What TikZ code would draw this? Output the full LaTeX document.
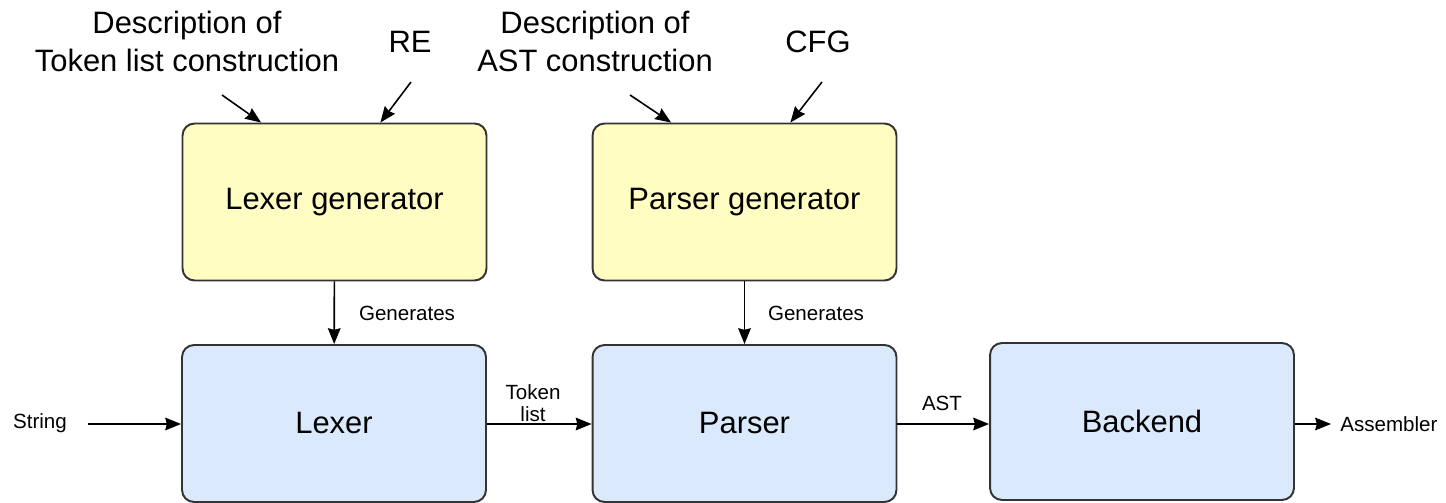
\documentclass[tikz,border=0pt]{standalone}
\usepackage{fontspec}
\setmainfont{Liberation Sans}
\usetikzlibrary{arrows.meta,calc}
\definecolor{genfill}{HTML}{FFFDC2}
\definecolor{stagefill}{HTML}{DAEAFC}
\definecolor{boxedge}{HTML}{333333}
\begin{document}
\begin{tikzpicture}[x=0.02cm,y=-0.02cm,
  box/.style={draw=boxedge,line width=1.1pt,rounded corners=0.24cm,
    minimum width=6.08cm,minimum height=3.14cm,inner sep=0pt,
    font=\fontsize{17.6}{21.6}\selectfont},
  gen/.style={box,fill=genfill},
  stage/.style={box,fill=stagefill},
  big/.style={font=\fontsize{17.6}{21.6}\selectfont,align=center,inner sep=0pt},
  small/.style={font=\fontsize{11.7}{12.5}\selectfont,align=center,inner sep=0pt},
  arr/.style={-{Stealth[length=9pt,width=7.2pt,inset=0.9pt]},line width=0.9pt,black}]
  \useasboundingbox (0,0) rectangle (1446,503);

  % generator tools
  \node[gen] (lexgen) at (334.5,202) {Lexer generator};
  \node[gen] (pargen) at (744.5,202) {Parser generator};

  % compiler stages
  \node[stage] (lexer)   at (334,423.5)  {Lexer};
  \node[stage] (parser)  at (744.5,423.5) {Parser};
  \node[stage] (backend) at (1142,421.5) {Backend};

  % inputs of the generators
  \node[big] (desclex) at (187,41) {Description of\\Token list construction};
  \node[big] (re)      at (410,42) {RE};
  \node[big] (descpar) at (595,41) {Description of\\AST construction};
  \node[big] (cfg)     at (818,42) {CFG};

  \coordinate (dl) at (222,95);
  \coordinate (rl) at (411,82);
  \coordinate (dp) at (630,95);
  \coordinate (cp) at (822,82);
  \draw[arr] (dl) -- ($(lexgen.north west)!0.26!(lexgen.north east)$);
  \draw[arr] (rl) -- ($(lexgen.north west)!0.65!(lexgen.north east)$);
  \draw[arr] (dp) -- ($(pargen.north west)!0.26!(pargen.north east)$);
  \draw[arr] (cp) -- ($(pargen.north west)!0.65!(pargen.north east)$);

  % generated programs
  \draw[arr] (lexgen) -- (lexer);
  \draw[arr] (pargen.south) -- (pargen.south |- parser.north);
  \node[small] (genl) at (407,313) {Generates};
  \node[small] (genp) at (816,313) {Generates};

  % data flow through the pipeline
  \node[small] (str) at (40,423) {String};
  \coordinate (strend) at (88,424);
  \draw[arr] (strend) -- (strend -| lexer.west);
  \draw[arr] (lexer.east |- 0,424) -- (parser.west |- 0,424);
  \node[small] (tok) at (533,403) {Token\\list};
  \draw[arr] (parser.east |- 0,424) -- (backend.west |- 0,424);
  \node[small] (ast) at (942,403) {AST};
  \coordinate (asmend) at (1331,424);
  \draw[arr] (backend.east |- asmend) -- (asmend);
  \node[small,anchor=west] (asm) at (1340,424) {Assembler};
\end{tikzpicture}
\end{document}
